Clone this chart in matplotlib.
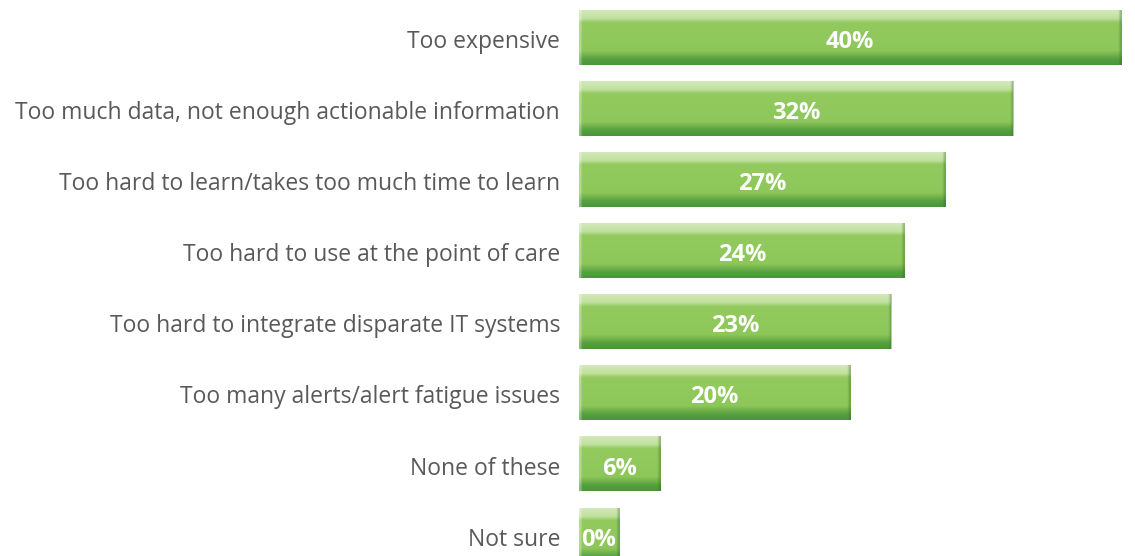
import numpy as np
import matplotlib.pyplot as plt
from matplotlib.colors import LinearSegmentedColormap

categories = ['Too expensive',
              'Too much data, not enough actionable information',
              'Too hard to learn/takes too much time to learn',
              'Too hard to use at the point of care',
              'Too hard to integrate disparate IT systems',
              'Too many alerts/alert fatigue issues',
              'None of these',
              'Not sure']
values = [40, 32, 27, 24, 23, 20, 6, 0]

plt.rcParams['font.family'] = ['Open Sans', 'DejaVu Sans']

fig = plt.figure(figsize=(11.35, 5.56), dpi=100)
ax = fig.add_axes([0, 0, 1, 1])
ax.set_xlim(-42.7, 41.0)
ax.set_ylim(7.30, -0.52)
ax.axis('off')

# vertical gradient for the bevelled bars
grad = LinearSegmentedColormap.from_list('bar', [
    (0.0, '#d2e9b9'), (0.15, '#c0e09e'), (0.22, '#93ca5f'),
    (0.74, '#8dc75a'), (0.82, '#73b24c'), (0.9, '#55a040'), (1.0, '#4b953b')])
g = np.linspace(0, 1, 100).reshape(-1, 1)

h = 0.76
for i, (cat, v) in enumerate(zip(categories, values)):
    w = max(v, 2.95)
    ax.imshow(g, cmap=grad, aspect='auto', extent=(0, w, i + 0.01 + h / 2, i + 0.01 - h / 2),
              interpolation='bilinear', zorder=1)
    # lighter left edge, darker right edge
    ax.imshow(np.array([[1.0, 0.0]]), cmap=LinearSegmentedColormap.from_list(
        'l', [(1, 1, 1, 0), (1, 1, 1, 0.35)]), aspect='auto',
        extent=(0, 0.3, i + 0.01 + h / 2, i + 0.01 - h / 2), interpolation='bilinear', zorder=2)
    ax.imshow(np.array([[0.0, 1.0]]), cmap=LinearSegmentedColormap.from_list(
        'r', [(0.2, 0.4, 0.15, 0), (0.2, 0.4, 0.15, 0.35)]), aspect='auto',
        extent=(w - 0.3, w, i + 0.01 + h / 2, i + 0.01 - h / 2), interpolation='bilinear', zorder=2)
    ax.text(w / 2, i + 0.07, f'{v}%', color='white', fontsize=17, fontweight='bold',
            ha='center', va='center', zorder=3)
    ax.text(-1.4, i + 0.07, cat, color='#58595b', fontsize=16.5,
            ha='right', va='center')

fig.savefig('out.png', dpi=100)
